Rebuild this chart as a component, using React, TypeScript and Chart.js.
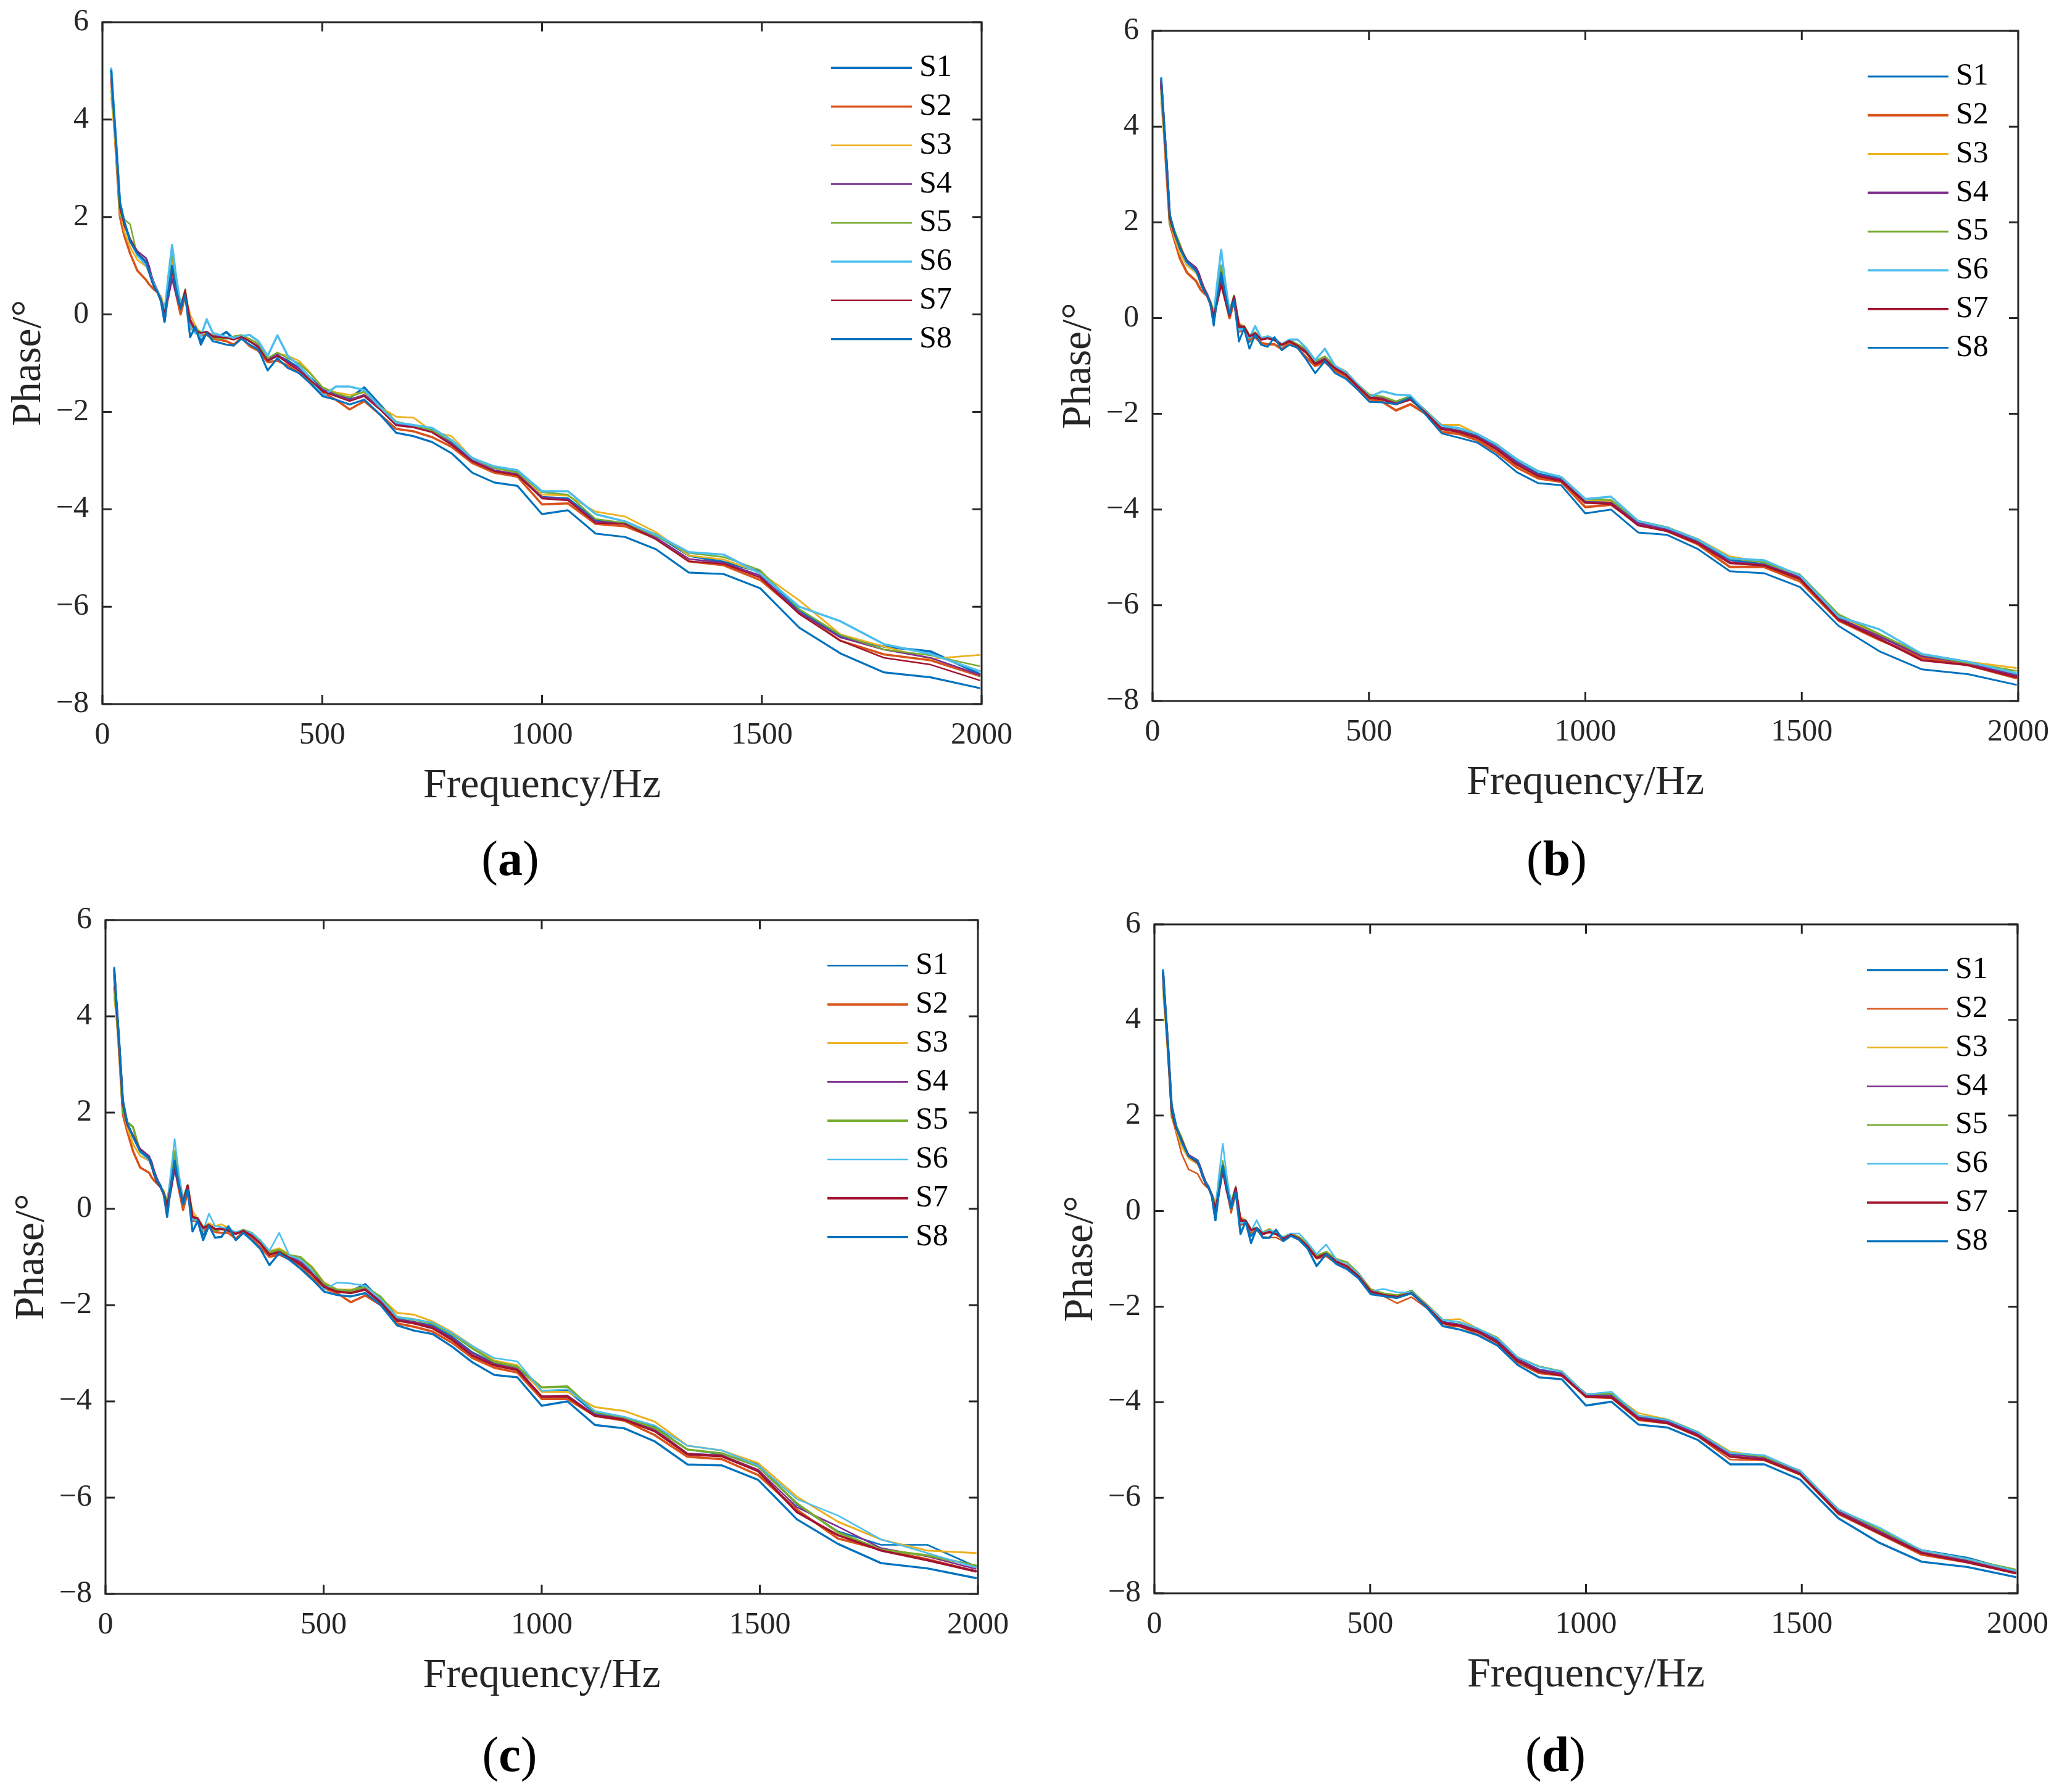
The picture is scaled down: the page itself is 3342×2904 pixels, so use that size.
import React, { useEffect, useRef } from 'react'
import { Chart, registerables } from 'chart.js'
import type { Plugin } from 'chart.js'

Chart.register(...registerables)

// 1/12-octave centre frequencies (Hz)
const FREQ = [
  20, 25.1, 31.6, 39.8, 50.1, 63.1, 79.4, 100, 105.9, 112.2,
  118.9, 125.9, 133.4, 141.3, 149.6, 158.5, 167.9, 177.8, 188.4, 199.5,
  211.3, 223.9, 237.1, 251.2, 266.1, 281.8, 298.5, 316.2, 335, 354.8,
  375.8, 398.1, 421.7, 446.7, 473.2, 501.2, 530.9, 562.3, 595.7, 631,
  668.3, 707.9, 749.9, 794.3, 841.4, 891.3, 944.1, 1000, 1059, 1122,
  1189, 1259, 1334, 1413, 1496, 1585, 1679, 1778, 1884, 1995,
]

const SERIES = ['S1', 'S2', 'S3', 'S4', 'S5', 'S6', 'S7', 'S8']
const COLORS = ['#0072BD', '#D95319', '#EDB120', '#7E2F8E', '#77AC30', '#4DBEEE', '#A2142F', '#0072BD']

// ---- panel (a) ----
const A_S1 = [
  5.02, 4.3, 3.45, 2.3, 1.88, 1.52, 1.25, 1.08, 0.9, 0.72,
  0.56, 0.45, 0.28, -0.15, 0.45, 1.0, 0.55, 0.15, 0.42, -0.22,
  -0.3, -0.55, -0.38, -0.45, -0.45, -0.36, -0.5, -0.45, -0.55, -0.65,
  -0.95, -0.85, -0.95, -1.1, -1.3, -1.55, -1.65, -1.72, -1.5, -1.85,
  -2.22, -2.28, -2.35, -2.62, -2.95, -3.15, -3.22, -3.75, -3.78, -4.22,
  -4.3, -4.52, -4.95, -5.08, -5.28, -6.08, -6.62, -6.82, -6.92, -7.38,
]
const A_S2 = [
  4.85, 4.1, 3.2, 2.0, 1.6, 1.25, 0.9, 0.7, 0.62, 0.56,
  0.5, 0.45, 0.28, -0.02, 0.35, 0.85, 0.4, 0.0, 0.38, -0.28,
  -0.35, -0.42, -0.42, -0.5, -0.52, -0.55, -0.62, -0.48, -0.65, -0.75,
  -0.98, -0.95, -1.05, -1.2, -1.38, -1.6, -1.75, -1.95, -1.78, -2.05,
  -2.35, -2.4, -2.52, -2.72, -3.05, -3.25, -3.33, -3.9, -3.88, -4.3,
  -4.35, -4.6, -5.07, -5.15, -5.45, -6.12, -6.7, -6.98, -7.1, -7.42,
]
const A_S3 = [
  4.45, 4.0, 3.25, 2.15, 1.7, 1.38, 1.12, 0.98, 0.85, 0.7,
  0.58, 0.42, 0.38, 0.12, 0.6, 1.1, 0.6, 0.25, 0.4, 0.0,
  -0.22, -0.4, -0.38, -0.42, -0.45, -0.5, -0.45, -0.44, -0.52, -0.62,
  -0.9, -0.8, -0.85, -0.95, -1.2, -1.5, -1.6, -1.65, -1.6, -1.9,
  -2.1, -2.12, -2.4, -2.5, -2.95, -3.15, -3.25, -3.7, -3.72, -4.05,
  -4.15, -4.47, -4.95, -5.03, -5.3, -5.87, -6.57, -6.82, -7.07, -6.99,
]
const A_S4 = [
  4.9, 4.2, 3.4, 2.25, 1.85, 1.55, 1.3, 1.15, 1.0, 0.78,
  0.62, 0.48, 0.32, 0.1, 0.35, 0.72, 0.4, 0.12, 0.42, -0.1,
  -0.3, -0.38, -0.35, -0.44, -0.45, -0.48, -0.5, -0.45, -0.55, -0.65,
  -0.92, -0.82, -0.98, -1.1, -1.32, -1.55, -1.65, -1.75, -1.65, -1.9,
  -2.25, -2.3, -2.4, -2.65, -3.0, -3.2, -3.28, -3.75, -3.8, -4.25,
  -4.3, -4.58, -5.02, -5.1, -5.36, -6.12, -6.63, -6.88, -7.05, -7.4,
]
const A_S5 = [
  4.6, 4.1, 3.35, 2.0, 1.95, 1.85, 1.2, 1.02, 0.88, 0.68,
  0.52, 0.44, 0.32, 0.12, 0.65, 1.25, 0.65, 0.2, 0.52, -0.2,
  -0.32, -0.35, -0.38, -0.48, -0.5, -0.5, -0.45, -0.42, -0.5, -0.6,
  -0.9, -0.78, -0.9, -1.0, -1.22, -1.5, -1.62, -1.7, -1.58, -1.88,
  -2.2, -2.28, -2.38, -2.6, -2.95, -3.15, -3.25, -3.65, -3.7, -4.2,
  -4.28, -4.55, -4.9, -4.98, -5.25, -6.05, -6.58, -6.88, -7.0, -7.22,
]
const A_S6 = [
  5.05, 4.3, 3.45, 2.3, 1.85, 1.5, 1.22, 1.0, 0.88, 0.72,
  0.58, 0.46, 0.3, 0.05, 0.75, 1.43, 0.75, 0.2, 0.38, -0.25,
  -0.38, -0.45, -0.1, -0.38, -0.42, -0.46, -0.48, -0.45, -0.42, -0.55,
  -0.85, -0.43, -0.85, -1.05, -1.3, -1.68, -1.48, -1.48, -1.55, -1.9,
  -2.22, -2.27, -2.33, -2.58, -2.95, -3.12, -3.2, -3.63, -3.63, -4.1,
  -4.25, -4.52, -4.88, -4.93, -5.32, -6.0, -6.3, -6.77, -6.97, -7.32,
]
const A_S7 = [
  4.95, 4.25, 3.4, 2.2, 1.82, 1.55, 1.28, 1.05, 0.9, 0.68,
  0.52, 0.44, 0.3, 0.02, 0.45, 0.9, 0.5, 0.15, 0.5, -0.15,
  -0.33, -0.38, -0.36, -0.46, -0.47, -0.48, -0.52, -0.46, -0.55, -0.68,
  -0.95, -0.85, -1.0, -1.15, -1.35, -1.58, -1.68, -1.78, -1.68, -1.95,
  -2.28, -2.32, -2.42, -2.68, -3.02, -3.22, -3.3, -3.78, -3.82, -4.28,
  -4.3, -4.62, -5.07, -5.12, -5.4, -6.15, -6.7, -7.05, -7.19, -7.51,
]
const A_S8 = [
  5.0, 4.3, 3.45, 2.3, 1.9, 1.5, 1.25, 1.07, 0.88, 0.7,
  0.55, 0.45, 0.26, -0.12, 0.45, 1.0, 0.5, 0.12, 0.4, -0.47,
  -0.25, -0.62, -0.38, -0.55, -0.58, -0.62, -0.64, -0.5, -0.62, -0.72,
  -1.15, -0.9, -1.1, -1.2, -1.42, -1.68, -1.75, -1.85, -1.75, -2.05,
  -2.43, -2.5, -2.62, -2.85, -3.25, -3.45, -3.52, -4.1, -4.02, -4.5,
  -4.57, -4.82, -5.3, -5.33, -5.62, -6.43, -6.96, -7.35, -7.45, -7.67,
]

// ---- panel (b) ----
const B_S1 = [
  5.0, 4.3, 3.4, 2.15, 1.82, 1.45, 1.18, 1.0, 0.9, 0.72,
  0.6, 0.5, 0.32, -0.12, 0.42, 0.95, 0.5, 0.1, 0.4, -0.22,
  -0.2, -0.5, -0.32, -0.45, -0.42, -0.42, -0.55, -0.48, -0.55, -0.7,
  -0.95, -0.85, -1.02, -1.15, -1.4, -1.62, -1.68, -1.75, -1.63, -1.95,
  -2.28, -2.35, -2.45, -2.68, -3.0, -3.25, -3.35, -3.82, -3.83, -4.26,
  -4.4, -4.66, -5.05, -5.14, -5.38, -6.25, -6.62, -7.02, -7.18, -7.45,
]
const B_S2 = [
  4.85, 4.1, 3.15, 1.98, 1.65, 1.25, 0.95, 0.78, 0.68, 0.58,
  0.52, 0.47, 0.3, 0.0, 0.38, 0.85, 0.4, 0.0, 0.35, -0.28,
  -0.25, -0.45, -0.4, -0.52, -0.55, -0.55, -0.65, -0.5, -0.62, -0.82,
  -1.0, -0.92, -1.1, -1.22, -1.46, -1.7, -1.75, -1.93, -1.8, -2.0,
  -2.38, -2.42, -2.55, -2.8, -3.12, -3.35, -3.42, -3.95, -3.9, -4.3,
  -4.45, -4.72, -5.2, -5.2, -5.5, -6.32, -6.72, -7.1, -7.25, -7.52,
]
const B_S3 = [
  4.5, 4.0, 3.2, 2.05, 1.7, 1.35, 1.1, 0.95, 0.85, 0.7,
  0.58, 0.46, 0.35, 0.15, 0.55, 1.0, 0.55, 0.17, 0.42, -0.1,
  -0.18, -0.36, -0.3, -0.42, -0.38, -0.45, -0.56, -0.46, -0.55, -0.65,
  -0.9, -0.82, -1.0, -1.12, -1.38, -1.62, -1.65, -1.75, -1.65, -1.95,
  -2.23, -2.23, -2.42, -2.63, -2.95, -3.2, -3.32, -3.8, -3.82, -4.24,
  -4.37, -4.61, -4.98, -5.1, -5.38, -6.22, -6.62, -7.03, -7.18, -7.31,
]
const B_S4 = [
  4.9, 4.2, 3.35, 2.12, 1.8, 1.48, 1.2, 1.05, 0.95, 0.78,
  0.62, 0.5, 0.33, 0.08, 0.38, 0.82, 0.45, 0.12, 0.42, -0.15,
  -0.2, -0.38, -0.33, -0.44, -0.42, -0.46, -0.55, -0.48, -0.56, -0.7,
  -0.95, -0.85, -1.05, -1.17, -1.42, -1.65, -1.68, -1.78, -1.68, -1.97,
  -2.3, -2.36, -2.48, -2.7, -3.02, -3.28, -3.38, -3.85, -3.86, -4.28,
  -4.42, -4.68, -5.1, -5.16, -5.42, -6.28, -6.65, -7.06, -7.2, -7.47,
]
const B_S5 = [
  4.7, 4.1, 3.3, 1.95, 1.84, 1.55, 1.15, 1.0, 0.88, 0.7,
  0.56, 0.47, 0.34, 0.12, 0.58, 1.1, 0.6, 0.15, 0.47, -0.2,
  -0.16, -0.36, -0.3, -0.44, -0.4, -0.46, -0.58, -0.46, -0.55, -0.64,
  -0.9, -0.8, -1.0, -1.12, -1.38, -1.6, -1.64, -1.74, -1.64, -1.93,
  -2.25, -2.3, -2.42, -2.64, -2.95, -3.2, -3.32, -3.78, -3.8, -4.24,
  -4.37, -4.63, -5.02, -5.1, -5.36, -6.19, -6.6, -7.03, -7.2, -7.37,
]
const B_S6 = [
  5.02, 4.3, 3.4, 2.15, 1.78, 1.45, 1.15, 0.98, 0.88, 0.72,
  0.58, 0.48, 0.3, 0.05, 0.75, 1.43, 0.75, 0.15, 0.38, -0.25,
  -0.22, -0.42, -0.17, -0.42, -0.38, -0.44, -0.55, -0.45, -0.45, -0.62,
  -0.88, -0.64, -1.0, -1.14, -1.38, -1.65, -1.53, -1.6, -1.62, -1.95,
  -2.25, -2.3, -2.42, -2.64, -2.95, -3.2, -3.32, -3.78, -3.73, -4.24,
  -4.38, -4.62, -5.02, -5.06, -5.38, -6.24, -6.5, -7.02, -7.18, -7.42,
]
const B_S7 = [
  4.95, 4.25, 3.35, 2.1, 1.78, 1.48, 1.18, 1.0, 0.9, 0.72,
  0.58, 0.47, 0.32, 0.02, 0.35, 0.7, 0.38, 0.05, 0.45, -0.18,
  -0.18, -0.38, -0.32, -0.45, -0.42, -0.46, -0.56, -0.48, -0.58, -0.72,
  -0.96, -0.88, -1.05, -1.18, -1.42, -1.66, -1.7, -1.8, -1.7, -1.98,
  -2.32, -2.38, -2.5, -2.74, -3.06, -3.3, -3.4, -3.86, -3.88, -4.33,
  -4.45, -4.7, -5.12, -5.17, -5.45, -6.3, -6.7, -7.15, -7.25, -7.5,
]
const B_S8 = [
  5.0, 4.3, 3.4, 2.17, 1.82, 1.45, 1.18, 1.0, 0.88, 0.7,
  0.57, 0.48, 0.3, -0.16, 0.42, 0.95, 0.5, 0.08, 0.38, -0.49,
  -0.22, -0.64, -0.35, -0.56, -0.6, -0.4, -0.67, -0.56, -0.62, -0.86,
  -1.15, -0.9, -1.15, -1.27, -1.49, -1.75, -1.76, -1.8, -1.66, -2.02,
  -2.41, -2.5, -2.6, -2.86, -3.22, -3.45, -3.49, -4.08, -4.0, -4.48,
  -4.53, -4.82, -5.29, -5.33, -5.62, -6.43, -6.96, -7.34, -7.44, -7.66,
]

// ---- panel (c) ----
const C_S1 = [
  5.0, 4.3, 3.45, 2.26, 1.78, 1.5, 1.2, 1.08, 0.92, 0.74,
  0.6, 0.5, 0.32, -0.15, 0.45, 1.0, 0.55, 0.1, 0.42, -0.2,
  -0.22, -0.55, -0.32, -0.42, -0.4, -0.38, -0.52, -0.45, -0.55, -0.7,
  -0.92, -0.88, -0.98, -1.1, -1.3, -1.58, -1.68, -1.7, -1.56, -1.88,
  -2.28, -2.35, -2.42, -2.65, -2.98, -3.2, -3.3, -3.78, -3.78, -4.25,
  -4.35, -4.52, -5.0, -5.1, -5.3, -6.15, -6.7, -6.98, -6.98, -7.43,
]
const C_S2 = [
  4.85, 4.1, 3.2, 1.96, 1.6, 1.2, 0.86, 0.75, 0.65, 0.58,
  0.52, 0.46, 0.3, 0.0, 0.38, 0.88, 0.42, -0.02, 0.35, -0.25,
  -0.25, -0.45, -0.36, -0.48, -0.5, -0.5, -0.62, -0.48, -0.62, -0.8,
  -1.0, -0.95, -1.05, -1.18, -1.42, -1.65, -1.75, -1.94, -1.8, -2.0,
  -2.38, -2.45, -2.55, -2.78, -3.1, -3.3, -3.4, -3.95, -3.95, -4.3,
  -4.4, -4.7, -5.15, -5.2, -5.53, -6.25, -6.85, -7.08, -7.28, -7.53,
]
const C_S3 = [
  4.4, 4.0, 3.25, 2.1, 1.68, 1.35, 1.1, 1.0, 0.88, 0.7,
  0.58, 0.45, 0.38, 0.15, 0.6, 1.1, 0.6, 0.23, 0.45, -0.05,
  -0.2, -0.38, -0.3, -0.36, -0.32, -0.4, -0.5, -0.43, -0.52, -0.66,
  -0.88, -0.82, -0.95, -1.02, -1.2, -1.53, -1.68, -1.68, -1.62, -1.85,
  -2.16, -2.2, -2.34, -2.56, -2.85, -3.15, -3.25, -3.8, -3.8, -4.12,
  -4.2, -4.42, -4.92, -5.02, -5.28, -5.98, -6.5, -6.87, -7.1, -7.15,
]
const C_S4 = [
  4.9, 4.2, 3.4, 2.2, 1.76, 1.5, 1.25, 1.1, 0.98, 0.78,
  0.62, 0.48, 0.32, 0.1, 0.35, 0.82, 0.45, 0.15, 0.45, -0.15,
  -0.22, -0.4, -0.33, -0.42, -0.4, -0.45, -0.52, -0.46, -0.55, -0.7,
  -0.95, -0.88, -1.0, -1.1, -1.3, -1.6, -1.7, -1.72, -1.66, -1.92,
  -2.3, -2.35, -2.45, -2.68, -3.0, -3.22, -3.32, -3.9, -3.88, -4.28,
  -4.36, -4.58, -5.08, -5.12, -5.42, -6.2, -6.6, -7.05, -7.22, -7.48,
]
const C_S5 = [
  4.6, 4.1, 3.35, 2.0, 1.8, 1.7, 1.18, 1.02, 0.9, 0.7,
  0.55, 0.46, 0.34, 0.12, 0.62, 1.2, 0.62, 0.2, 0.49, -0.2,
  -0.23, -0.38, -0.33, -0.45, -0.42, -0.45, -0.5, -0.44, -0.5, -0.66,
  -0.9, -0.85, -0.97, -1.0, -1.22, -1.55, -1.68, -1.7, -1.62, -1.83,
  -2.25, -2.3, -2.38, -2.6, -2.9, -3.18, -3.28, -3.71, -3.69, -4.22,
  -4.33, -4.55, -5.0, -5.08, -5.35, -6.12, -6.72, -7.08, -7.2, -7.41,
]
const C_S6 = [
  5.02, 4.3, 3.45, 2.25, 1.75, 1.48, 1.18, 1.0, 0.9, 0.72,
  0.58, 0.47, 0.3, 0.05, 0.75, 1.45, 0.75, 0.2, 0.38, -0.22,
  -0.24, -0.45, -0.1, -0.36, -0.38, -0.42, -0.48, -0.45, -0.5, -0.65,
  -0.87, -0.5, -0.97, -1.05, -1.28, -1.68, -1.53, -1.55, -1.6, -1.88,
  -2.25, -2.3, -2.36, -2.58, -2.85, -3.1, -3.17, -3.78, -3.75, -4.2,
  -4.32, -4.5, -4.92, -5.02, -5.33, -6.03, -6.37, -6.87, -7.15, -7.45,
]
const C_S7 = [
  4.95, 4.25, 3.4, 2.2, 1.75, 1.52, 1.22, 1.05, 0.9, 0.7,
  0.55, 0.46, 0.32, 0.05, 0.45, 0.92, 0.5, 0.12, 0.48, -0.17,
  -0.2, -0.4, -0.34, -0.42, -0.42, -0.45, -0.52, -0.46, -0.56, -0.72,
  -0.95, -0.9, -1.02, -1.15, -1.35, -1.62, -1.72, -1.75, -1.68, -1.95,
  -2.32, -2.38, -2.48, -2.72, -3.05, -3.25, -3.35, -3.9, -3.9, -4.3,
  -4.38, -4.62, -5.1, -5.14, -5.45, -6.3, -6.78, -7.1, -7.3, -7.53,
]
const C_S8 = [
  5.0, 4.3, 3.45, 2.26, 1.78, 1.5, 1.2, 1.06, 0.9, 0.72,
  0.57, 0.48, 0.3, -0.17, 0.45, 1.0, 0.5, 0.1, 0.4, -0.47,
  -0.25, -0.65, -0.35, -0.6, -0.58, -0.36, -0.65, -0.5, -0.65, -0.83,
  -1.17, -0.92, -1.06, -1.24, -1.46, -1.72, -1.79, -1.82, -1.75, -2.0,
  -2.42, -2.53, -2.6, -2.86, -3.19, -3.45, -3.5, -4.09, -4.0, -4.49,
  -4.56, -4.83, -5.31, -5.33, -5.63, -6.45, -6.96, -7.36, -7.47, -7.67,
]

// ---- panel (d) ----
const D_S1 = [
  5.04, 4.3, 3.45, 2.22, 1.78, 1.45, 1.15, 1.05, 0.92, 0.74,
  0.6, 0.5, 0.32, -0.19, 0.42, 0.95, 0.5, 0.1, 0.42, -0.25,
  -0.2, -0.52, -0.38, -0.48, -0.42, -0.45, -0.56, -0.48, -0.55, -0.72,
  -0.98, -0.88, -1.05, -1.14, -1.35, -1.66, -1.74, -1.78, -1.67, -1.98,
  -2.32, -2.38, -2.5, -2.7, -3.1, -3.32, -3.4, -3.83, -3.86, -4.3,
  -4.4, -4.66, -5.08, -5.15, -5.44, -6.26, -6.7, -7.1, -7.26, -7.54,
]
const D_S2 = [
  4.85, 4.1, 3.2, 1.98, 1.65, 1.2, 0.87, 0.78, 0.68, 0.58,
  0.52, 0.47, 0.3, 0.0, 0.38, 0.88, 0.4, -0.04, 0.35, -0.3,
  -0.24, -0.45, -0.4, -0.54, -0.55, -0.55, -0.63, -0.5, -0.6, -0.78,
  -1.0, -0.95, -1.1, -1.2, -1.4, -1.72, -1.78, -1.93, -1.8, -2.03,
  -2.4, -2.42, -2.58, -2.8, -3.18, -3.4, -3.45, -3.9, -3.92, -4.38,
  -4.45, -4.72, -5.2, -5.22, -5.52, -6.35, -6.76, -7.2, -7.36, -7.58,
]
const D_S3 = [
  4.55, 4.0, 3.25, 2.1, 1.7, 1.35, 1.1, 0.98, 0.88, 0.72,
  0.58, 0.48, 0.36, 0.18, 0.55, 1.0, 0.55, 0.22, 0.45, -0.12,
  -0.19, -0.37, -0.35, -0.44, -0.37, -0.46, -0.55, -0.47, -0.54, -0.67,
  -0.93, -0.85, -1.0, -1.08, -1.3, -1.63, -1.72, -1.76, -1.68, -1.95,
  -2.28, -2.26, -2.46, -2.64, -3.06, -3.25, -3.36, -3.83, -3.82, -4.23,
  -4.36, -4.62, -5.03, -5.14, -5.44, -6.25, -6.66, -7.1, -7.3, -7.54,
]
const D_S4 = [
  4.9, 4.2, 3.4, 2.15, 1.76, 1.48, 1.18, 1.07, 0.95, 0.78,
  0.62, 0.5, 0.34, 0.08, 0.38, 0.9, 0.45, 0.12, 0.42, -0.15,
  -0.22, -0.38, -0.36, -0.46, -0.42, -0.46, -0.56, -0.48, -0.56, -0.72,
  -0.97, -0.88, -1.05, -1.14, -1.35, -1.66, -1.74, -1.78, -1.7, -1.98,
  -2.32, -2.38, -2.5, -2.72, -3.1, -3.32, -3.4, -3.86, -3.87, -4.32,
  -4.4, -4.67, -5.1, -5.16, -5.46, -6.28, -6.7, -7.14, -7.32, -7.56,
]
const D_S5 = [
  4.7, 4.1, 3.3, 1.96, 1.8, 1.55, 1.15, 1.02, 0.9, 0.72,
  0.56, 0.48, 0.35, 0.14, 0.58, 1.05, 0.6, 0.2, 0.52, -0.19,
  -0.19, -0.38, -0.34, -0.45, -0.38, -0.46, -0.54, -0.47, -0.54, -0.68,
  -0.93, -0.85, -1.0, -1.07, -1.3, -1.64, -1.72, -1.76, -1.67, -1.95,
  -2.27, -2.33, -2.46, -2.65, -3.06, -3.25, -3.35, -3.84, -3.82, -4.28,
  -4.36, -4.62, -5.06, -5.14, -5.44, -6.24, -6.66, -7.1, -7.28, -7.5,
]
const D_S6 = [
  5.02, 4.3, 3.45, 2.2, 1.76, 1.45, 1.15, 1.0, 0.9, 0.74,
  0.6, 0.49, 0.32, 0.05, 0.75, 1.41, 0.72, 0.15, 0.38, -0.25,
  -0.21, -0.42, -0.19, -0.46, -0.4, -0.45, -0.55, -0.47, -0.47, -0.66,
  -0.9, -0.7, -1.02, -1.12, -1.32, -1.68, -1.63, -1.7, -1.7, -1.97,
  -2.28, -2.32, -2.46, -2.66, -3.06, -3.26, -3.36, -3.84, -3.78, -4.28,
  -4.37, -4.63, -5.06, -5.11, -5.44, -6.25, -6.62, -7.1, -7.28, -7.53,
]
const D_S7 = [
  4.95, 4.25, 3.4, 2.12, 1.75, 1.48, 1.15, 1.02, 0.9, 0.72,
  0.58, 0.48, 0.32, 0.02, 0.4, 0.85, 0.42, 0.08, 0.48, -0.2,
  -0.2, -0.4, -0.36, -0.48, -0.44, -0.48, -0.58, -0.5, -0.58, -0.74,
  -0.98, -0.9, -1.06, -1.16, -1.37, -1.68, -1.76, -1.8, -1.72, -2.0,
  -2.35, -2.4, -2.53, -2.75, -3.14, -3.36, -3.44, -3.88, -3.9, -4.35,
  -4.44, -4.7, -5.14, -5.2, -5.5, -6.32, -6.74, -7.16, -7.35, -7.58,
]
const D_S8 = [
  5.0, 4.3, 3.45, 2.2, 1.78, 1.45, 1.15, 1.05, 0.9, 0.72,
  0.58, 0.49, 0.3, -0.18, 0.42, 0.95, 0.48, 0.06, 0.4, -0.48,
  -0.22, -0.67, -0.36, -0.56, -0.56, -0.39, -0.63, -0.52, -0.6, -0.78,
  -1.15, -0.9, -1.11, -1.22, -1.41, -1.74, -1.78, -1.82, -1.72, -2.02,
  -2.41, -2.48, -2.6, -2.81, -3.22, -3.48, -3.52, -4.07, -3.99, -4.47,
  -4.53, -4.79, -5.3, -5.3, -5.62, -6.43, -6.94, -7.34, -7.45, -7.66,
]

const FONT = "'Liberation Serif', 'Times New Roman', Times, serif"
const AXIS = '#262626'
const PANEL_W = 1671
const PANEL_H = 1452
const Y_AXIS_W = 166
const X_AXIS_H = 174
const TICK_LEN = 15

type Box = { left: number; top: number; right: number; bottom: number }

type PanelSpec = {
  tag: string
  left: number
  top: number
  plot: Box
  series: number[][]
  widths: number[]
  tagX: number
  tagTop: number
}

const PANELS: PanelSpec[] = [
  {
    tag: 'a', left: 0, top: 0,
    plot: { left: 166, top: 36, right: 1591, bottom: 1141 },
    series: [A_S1, A_S2, A_S3, A_S4, A_S5, A_S6, A_S7, A_S8],
    widths: [3.8, 3.6, 2.8, 2.8, 2.5, 3.6, 2.5, 3.2],
    tagX: 827, tagTop: 1351,
  },
  {
    tag: 'b', left: PANEL_W, top: 0,
    plot: { left: 197, top: 50, right: 1600, bottom: 1136 },
    series: [B_S1, B_S2, B_S3, B_S4, B_S5, B_S6, B_S7, B_S8],
    widths: [3, 4, 3, 3.8, 3, 3.5, 3.5, 3],
    tagX: 2523, tagTop: 1351,
  },
  {
    tag: 'c', left: 0, top: PANEL_H,
    plot: { left: 171, top: 39, right: 1585, bottom: 1131 },
    series: [C_S1, C_S2, C_S3, C_S4, C_S5, C_S6, C_S7, C_S8],
    widths: [2.6, 3.7, 3, 2.6, 3.7, 2.6, 3.7, 3.4],
    tagX: 826, tagTop: 2803,
  },
  {
    tag: 'd', left: PANEL_W, top: PANEL_H,
    plot: { left: 200, top: 46, right: 1599, bottom: 1130 },
    series: [D_S1, D_S2, D_S3, D_S4, D_S5, D_S6, D_S7, D_S8],
    widths: [3.7, 2.5, 2.5, 2.5, 2.5, 2.6, 3.7, 3.4],
    tagX: 2521, tagTop: 2803,
  },
]

// MATLAB-style box with inward ticks on all four sides
const frame: Plugin<'line'> = {
  id: 'frame',
  afterDatasetsDraw(chart) {
    const { ctx, chartArea } = chart
    const { left, right, top, bottom } = chartArea
    const xs = chart.scales.x
    const ys = chart.scales.y
    ctx.save()
    ctx.strokeStyle = AXIS
    ctx.lineWidth = 3
    ctx.beginPath()
    xs.ticks.forEach((t) => {
      const px = xs.getPixelForValue(t.value)
      ctx.moveTo(px, bottom)
      ctx.lineTo(px, bottom - TICK_LEN)
      ctx.moveTo(px, top)
      ctx.lineTo(px, top + TICK_LEN)
    })
    ys.ticks.forEach((t) => {
      const py = ys.getPixelForValue(t.value)
      ctx.moveTo(left, py)
      ctx.lineTo(left + TICK_LEN, py)
      ctx.moveTo(right, py)
      ctx.lineTo(right - TICK_LEN, py)
    })
    ctx.stroke()
    ctx.strokeRect(left, top, right - left, bottom - top)
    ctx.restore()
  },
}

// legend drawn inside the upper right corner, no box
const insideLegend: Plugin<'line'> = {
  id: 'insideLegend',
  afterDraw(chart) {
    const { ctx, chartArea } = chart
    ctx.save()
    ctx.font = `50px ${FONT}`
    ctx.textAlign = 'left'
    ctx.textBaseline = 'middle'
    chart.data.datasets.forEach((ds, i) => {
      const y = chartArea.top + 74 + i * 62.8
      ctx.strokeStyle = ds.borderColor as string
      ctx.lineWidth = ds.borderWidth as number
      ctx.beginPath()
      ctx.moveTo(chartArea.right - 244, y)
      ctx.lineTo(chartArea.right - 113, y)
      ctx.stroke()
      ctx.fillStyle = '#000'
      ctx.fillText(ds.label ?? '', chartArea.right - 101, y)
    })
    ctx.restore()
  },
}

const fmt = (v: number | string) => {
  const n = Number(v)
  return n < 0 ? `\u2212${Math.abs(n)}` : String(n)
}

const PhasePanel: React.FC<{ spec: PanelSpec }> = ({ spec }) => {
  const ref = useRef<HTMLCanvasElement | null>(null)

  useEffect(() => {
    if (!ref.current) return
    const { plot } = spec
    const chart = new Chart(ref.current, {
      type: 'line',
      data: {
        datasets: spec.series.map((vals, i) => ({
          label: SERIES[i],
          data: FREQ.map((f, j) => ({ x: f, y: vals[j] })),
          borderColor: COLORS[i],
          backgroundColor: COLORS[i],
          borderWidth: spec.widths[i],
          pointRadius: 0,
          tension: 0,
          fill: false,
          order: SERIES.length - i,
        })),
      },
      options: {
        animation: false,
        responsive: false,
        devicePixelRatio: 1,
        events: [],
        layout: {
          padding: {
            left: plot.left - Y_AXIS_W,
            top: plot.top,
            right: PANEL_W - plot.right,
            bottom: PANEL_H - plot.bottom - X_AXIS_H,
          },
        },
        elements: { line: { borderJoinStyle: 'round', borderCapStyle: 'round' } },
        plugins: { legend: { display: false }, tooltip: { enabled: false } },
        scales: {
          x: {
            type: 'linear',
            min: 0,
            max: 2000,
            grid: { display: false, drawTicks: false },
            border: { display: false },
            ticks: {
              stepSize: 500,
              padding: 21,
              maxRotation: 0,
              autoSkip: false,
              color: AXIS,
              font: { family: FONT, size: 50, lineHeight: 1.2 },
              callback: (v) => fmt(v),
            },
            title: {
              display: true,
              text: 'Frequency/Hz',
              color: AXIS,
              padding: 0,
              font: { family: FONT, size: 68, lineHeight: 1.2 },
            },
            afterFit: (s) => { s.height = X_AXIS_H },
          },
          y: {
            type: 'linear',
            min: -8,
            max: 6,
            grid: { display: false, drawTicks: false },
            border: { display: false },
            ticks: {
              stepSize: 2,
              padding: 22,
              autoSkip: false,
              color: AXIS,
              // small line height so the label overhang does not push the plot top down
              font: { family: FONT, size: 50, lineHeight: 0.4 },
              callback: (v) => fmt(v),
            },
            title: {
              display: true,
              text: 'Phase/°',
              color: AXIS,
              padding: { top: 6, bottom: 0 },
              font: { family: FONT, size: 68, lineHeight: 1.2 },
            },
            afterFit: (s) => { s.width = Y_AXIS_W },
          },
        },
      },
      plugins: [frame, insideLegend],
    })
    return () => chart.destroy()
  }, [spec])

  return (
    <>
      <div style={{ position: 'absolute', left: spec.left, top: spec.top, width: PANEL_W, height: PANEL_H }}>
        <canvas ref={ref} width={PANEL_W} height={PANEL_H} style={{ width: PANEL_W, height: PANEL_H, display: 'block' }} />
      </div>
      <div
        style={{
          position: 'absolute',
          left: spec.tagX - 200,
          top: spec.tagTop,
          width: 400,
          textAlign: 'center',
          fontFamily: FONT,
          fontSize: 80,
          lineHeight: 1,
          color: '#000',
        }}
      >
        (<b>{spec.tag}</b>)
      </div>
    </>
  )
}

export default function App() {
  return (
    <div style={{ position: 'absolute', left: 0, top: 0, width: 3342, height: 2904, background: '#fff', overflow: 'hidden' }}>
      {PANELS.map((p) => (
        <PhasePanel key={p.tag} spec={p} />
      ))}
    </div>
  )
}
